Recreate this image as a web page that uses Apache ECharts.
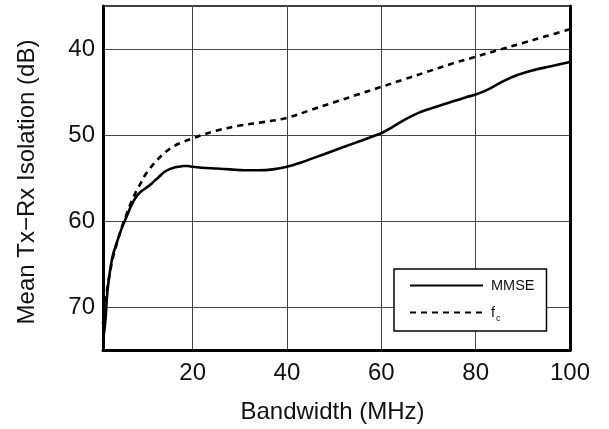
<!DOCTYPE html>
<html><head><meta charset="utf-8">
<script src="https://cdn.jsdelivr.net/npm/echarts@6/dist/echarts.min.js"></script>
<style>html,body{margin:0;padding:0;background:#fff}#c{width:609px;height:429px}</style>
</head><body><div id="c"></div>
<script>
// Bandwidth (MHz) vs mean Tx-Rx isolation (dB)
const mmseX = [1, 1.5, 2, 3, 4, 5, 6, 7, 8, 9, 10, 11, 12, 13, 14, 15, 16, 17, 18, 19, 20, 22, 25, 28, 31, 34, 37, 40, 43, 46, 50, 54, 58, 60, 62, 65, 68, 70, 74, 78, 80, 83, 86, 89, 92, 96, 100];
const mmseY = [74, 71.6, 67.9, 64.2, 62.4, 60.8, 59.5, 58.2, 57.2, 56.6, 56.2, 55.8, 55.3, 54.8, 54.3, 54.0, 53.8, 53.7, 53.6, 53.6, 53.7, 53.8, 53.9, 54.0, 54.1, 54.1, 54.0, 53.7, 53.2, 52.6, 51.8, 51.0, 50.2, 49.8, 49.2, 48.2, 47.4, 47.0, 46.3, 45.6, 45.3, 44.6, 43.7, 43.0, 42.5, 42.0, 41.5];
const fcX = [1, 1.5, 2, 3, 4, 5, 6, 7, 8, 9, 10, 12, 14, 16, 18, 20, 22, 25, 30, 35, 40, 45, 50, 55, 60, 65, 70, 75, 80, 85, 90, 95, 100];
const fcY = [72, 69.5, 67.5, 64.5, 62.5, 60.7, 59.2, 57.8, 56.6, 55.6, 54.6, 53.2, 52.1, 51.3, 50.8, 50.4, 50.0, 49.5, 48.9, 48.5, 48.0, 47.1, 46.2, 45.3, 44.4, 43.5, 42.6, 41.7, 40.9, 40.1, 39.3, 38.5, 37.7];
const xTicks = [20, 40, 60, 80, 100];
const yTicks = [40, 50, 60, 70];
const seriesNames = ['MMSE', 'fc'];

const FONT = 'Liberation Sans, Arial, Helvetica, sans-serif';
const pairs = (xs, ys) => xs.map((x, i) => [x, ys[i]]);

const chart = echarts.init(document.getElementById('c'), null, {renderer: 'canvas'});
chart.setOption({
  animation: false,
  backgroundColor: '#fff',
  grid: {left: 103, right: 39, top: 6, bottom: 76, show: true, borderColor: '#000', borderWidth: 1.5},
  xAxis: {
    type: 'value', min: 1, max: 100, splitNumber: 5,
    name: 'Bandwidth (MHz)', nameLocation: 'middle', nameGap: 50,
    nameTextStyle: {fontFamily: FONT, fontSize: 24, color: '#111', padding: [0, 8, 0, 0]},
    axisLine: {show: true, onZero: false, lineStyle: {color: '#000', width: 3}},
    axisTick: {show: false},
    axisLabel: {fontFamily: FONT, fontSize: 24, color: '#111', margin: 11,
      formatter: v => xTicks.includes(v) ? String(v) : ''},
    splitLine: {show: true, lineStyle: {color: '#444', width: 1}}
  },
  yAxis: [{
    type: 'value', min: 35, max: 75, splitNumber: 4, inverse: true,
    name: 'Mean Tx\u2212Rx Isolation (dB)', nameLocation: 'middle', nameGap: 64,
    nameTextStyle: {fontFamily: FONT, fontSize: 24, color: '#111', padding: [0, 8, 0, 0]},
    axisLine: {show: true, onZero: false, lineStyle: {color: '#000', width: 3}},
    axisTick: {show: false},
    axisLabel: {fontFamily: FONT, fontSize: 24, color: '#111', margin: 8,
      formatter: v => yTicks.includes(v) ? String(v) : ''},
    splitLine: {show: true, lineStyle: {color: '#444', width: 1}}
  }, {
    type: 'value', min: 35, max: 75, splitNumber: 4, inverse: true, position: 'right',
    axisLine: {show: true, onZero: false, lineStyle: {color: '#000', width: 3}},
    axisTick: {show: false}, axisLabel: {show: false}, splitLine: {show: false}
  }],
  legend: {
    orient: 'vertical', left: 394, top: 269,
    data: seriesNames,
    backgroundColor: '#fff', borderColor: '#000', borderWidth: 1.5, borderRadius: 0,
    padding: [9, 12, 8, 15],
    itemWidth: 73, itemHeight: 14, itemGap: 12,
    itemStyle: {opacity: 0},
    textStyle: {fontFamily: FONT, fontSize: 14.5, color: '#111', padding: [0, 0, 0, 3],
      rich: {
        f: {fontFamily: FONT, fontSize: 14.5, color: '#111'},
        c: {fontFamily: FONT, fontSize: 9, color: '#111', verticalAlign: 'bottom', padding: [12, 0, 0, 1]}
      }},
    formatter: name => name === 'fc' ? '{f|f}{c|c}' : name
  },
  series: [{
    name: seriesNames[0], type: 'line', data: pairs(mmseX, mmseY),
    symbol: 'none', smooth: 0.35,
    lineStyle: {color: '#000', width: 2.6, type: 'solid'},
    itemStyle: {color: '#000'}
  }, {
    name: seriesNames[1], type: 'line', data: pairs(fcX, fcY),
    symbol: 'none', smooth: 0.35,
    lineStyle: {color: '#000', width: 2.6, type: [6, 5]},
    itemStyle: {color: '#000'}
  }]
});
</script>
</body></html>
